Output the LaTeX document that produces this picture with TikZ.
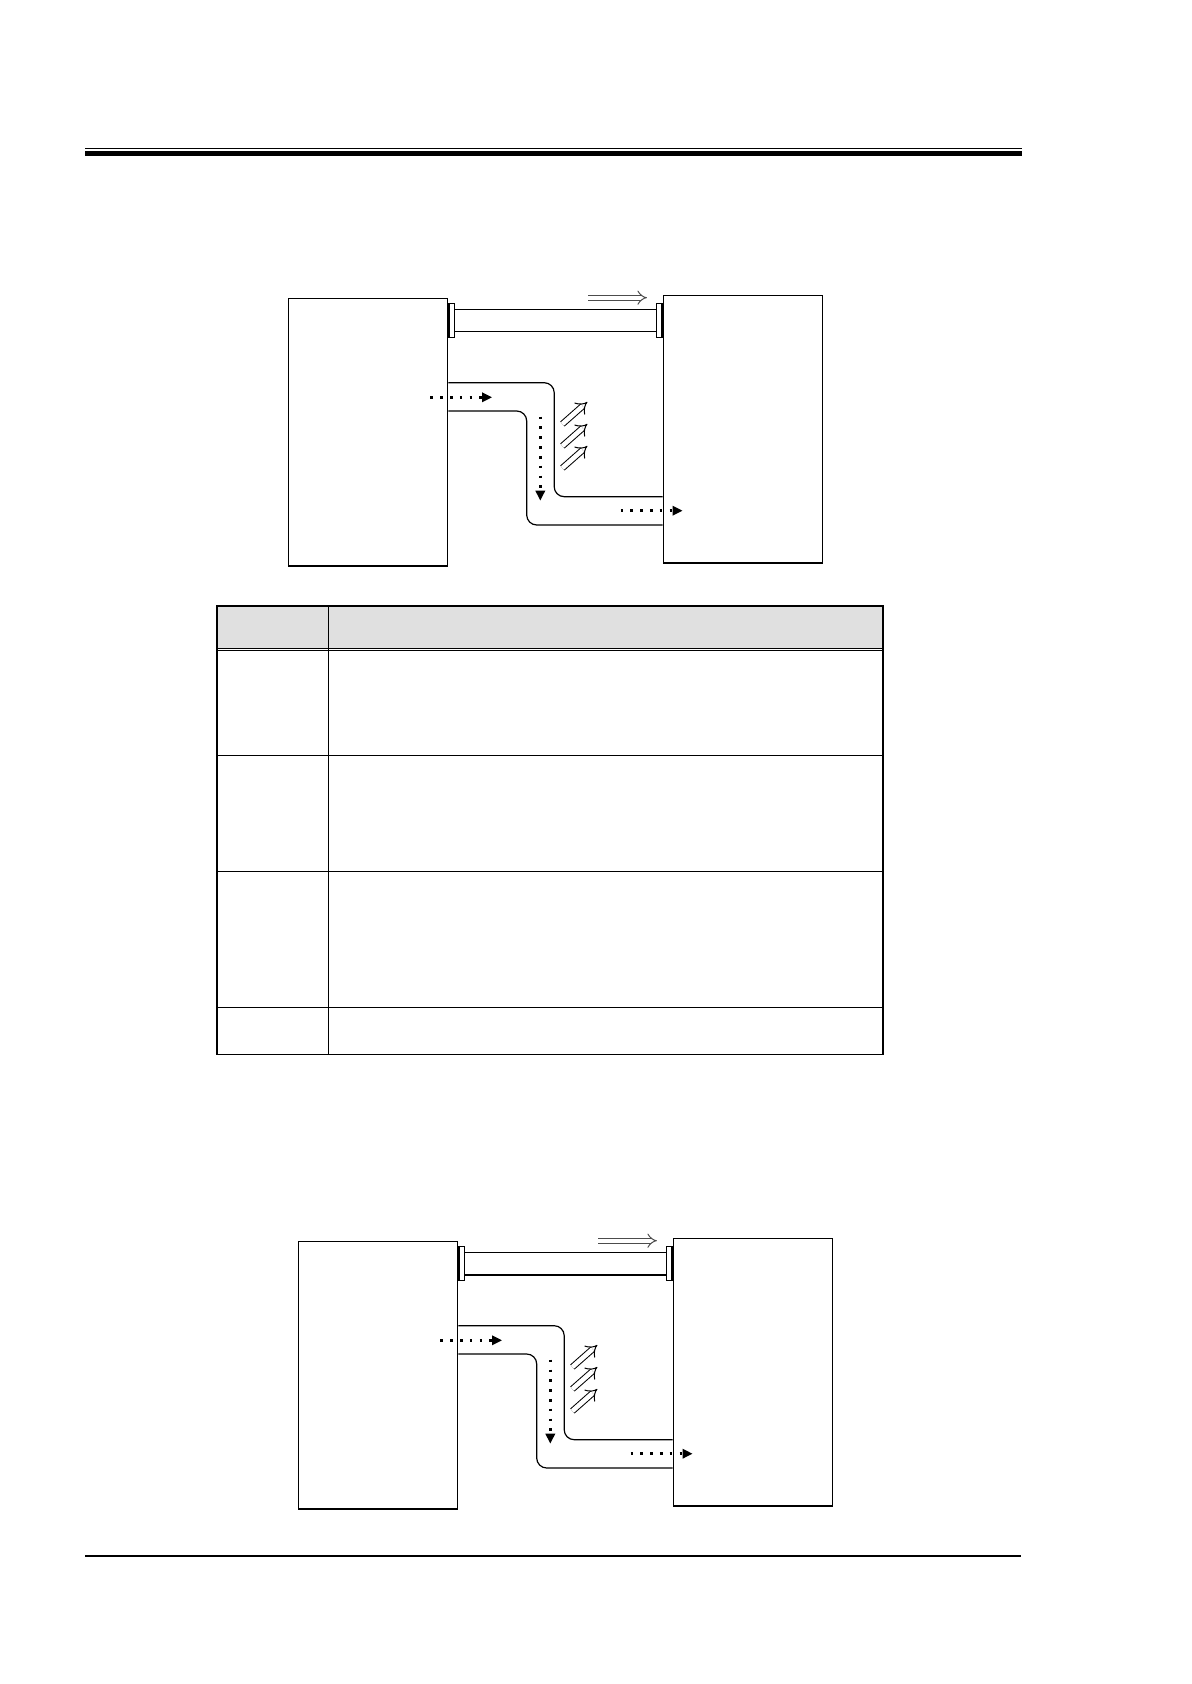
\documentclass[tikz,border=0pt]{standalone}
\usetikzlibrary{arrows.meta}
\begin{document}
\begin{tikzpicture}[x=0.5pt,y=-0.5pt,
  unit/.style={draw, line width=0.8pt, inner sep=0pt, minimum width=79.5pt, minimum height=133.6pt, anchor=north west},
  flange/.style={draw, line width=0.6pt, inner sep=0pt, minimum width=2.9pt, minimum height=17pt},
  duct/.style={line width=0.6pt, rounded corners=5pt},
  flow/.style={line width=1.3pt, dash pattern=on 1.3pt off 3.6pt, -{Triangle[length=5pt,width=4.6pt]}},
  heat/.style={double, double distance=2.3pt, line width=0.5pt, -{Implies}},
  push/.style={double, double distance=2pt, line width=0.5pt, draw=black!70, -{Implies}},
  grid/.style={line width=0.8pt}]
\useasboundingbox (0,0) rectangle (1191,1684);
\draw[line width=0.65pt] (85,148.7) -- (1022,148.7);
\draw[line width=2.5pt] (85,153.2) -- (1022,153.2);
\draw[line width=1pt] (85,1555.7) -- (1021,1555.7);
\foreach \dx/\dy/\n in {0/0/a,10/943/b}{
\begin{scope}[shift={(\dx,\dy)}]
\node[unit] (L\n) at (287.7,297.7) {};
\node[unit] (R\n) at (662.6,294.7) {};
\node[flange,anchor=west] (FL\n) at (L\n.east |- 0,320.3) {};
\node[flange,anchor=east] (FR\n) at (R\n.west |- 0,320.3) {};
\draw[line width=0.5pt] ([yshift=5.5pt]FL\n.east) -- ([yshift=5.5pt]FR\n.west);
\draw[line width=0.8pt] ([yshift=-5.7pt]FL\n.east) -- ([yshift=-5.7pt]FR\n.west);
\draw[push] (588.4,297.7) -- (646.9,297.7);
\draw[duct] (L\n.east |- 0,382.7) -| (554.2,496.7) -- (R\n.west |- 0,496.7);
\draw[duct] (L\n.east |- 0,411) -| (526.7,525) -- (R\n.west |- 0,525);
\draw[flow] (430.4,397.3) -- (492.1,397.3);
\draw[flow] (540.3,416.7) -- (540.3,500.7);
\draw[flow] (620.5,510.7) -- (682.6,510.7);
\foreach \k in {0,22,44}
  \draw[heat] (562.4,424+\k) -- (587.3,402+\k);
\end{scope}}
\fill[black!12] (217,606) rectangle (883,648);
\draw[grid] (217,606) rectangle (883,1054.3);
\draw[line width=0.5pt] (217,648.2) -- (883,648.2);
\draw[line width=0.5pt] (217,650.6) -- (883,650.6);
\draw[grid] (328.3,606) -- (328.3,1054.3);
\foreach \y in {755.3,871.3,1007.3}
  \draw[grid] (217,\y) -- (883,\y);
\end{tikzpicture}
\end{document}
